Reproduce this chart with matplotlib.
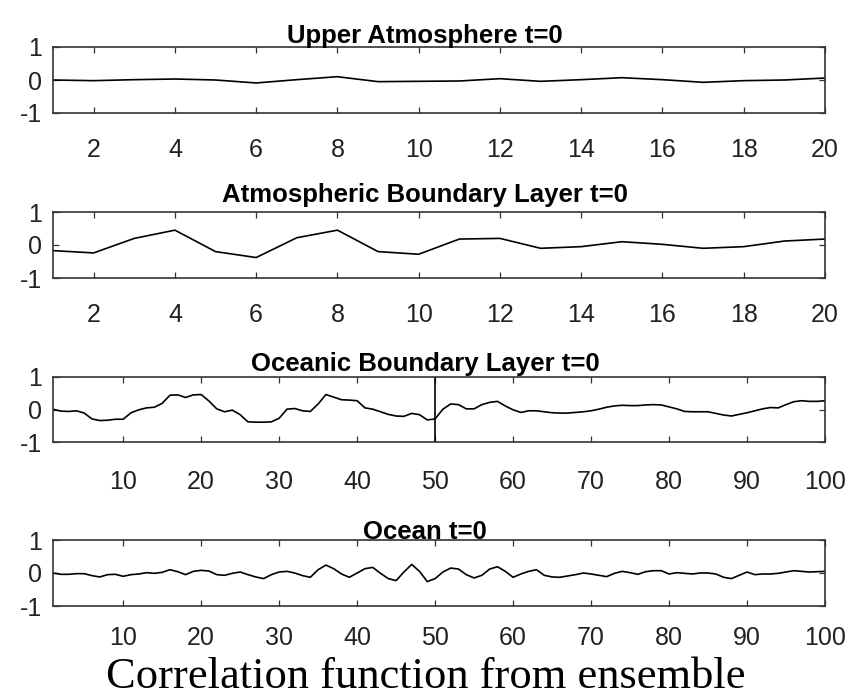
import numpy as np
import matplotlib
matplotlib.use("Agg")
import matplotlib.pyplot as plt

# ─── Data ─────────────────────────────────────────────────────────────────────

titles = [
    "Upper Atmosphere t=0",
    "Atmospheric Boundary Layer t=0",
    "Oceanic Boundary Layer t=0",
    "Ocean t=0",
]

x_short = np.arange(1, 21)
x_long = np.arange(1, 101)

upper_atm = [0.00, -0.02, 0.01, 0.03, 0.00, -0.09, 0.01, 0.10, -0.05, -0.04,
             -0.03, 0.04, -0.04, 0.01, 0.07, 0.01, -0.07, -0.02, 0.00, 0.06]

atm_bl = [-0.17, -0.24, 0.20, 0.45, -0.20, -0.38, 0.22, 0.45, -0.20, -0.28,
          0.18, 0.20, -0.10, -0.05, 0.10, 0.02, -0.10, -0.05, 0.12, 0.18]

ocean_bl = [0.01, -0.05, -0.06, -0.04, -0.11, -0.29, -0.34, -0.33, -0.30, -0.30,
            -0.10, -0.01, 0.05, 0.07, 0.19, 0.44, 0.45, 0.37, 0.45, 0.46,
            0.26, 0.02, -0.07, -0.02, -0.16, -0.38, -0.39, -0.39, -0.38, -0.27,
            0.01, 0.03, -0.04, -0.06, 0.17, 0.46, 0.38, 0.30, 0.29, 0.27,
            0.05, 0.01, -0.07, -0.15, -0.20, -0.21, -0.12, -0.16, -0.32, -0.29,
            0.01, 0.17, 0.15, 0.02, 0.02, 0.15, 0.22, 0.25, 0.11, -0.01,
            -0.09, -0.04, -0.04, -0.07, -0.10, -0.11, -0.11, -0.09, -0.07, -0.04,
            0.01, 0.07, 0.11, 0.13, 0.12, 0.12, 0.14, 0.15, 0.14, 0.08,
            0.02, -0.06, -0.07, -0.07, -0.07, -0.12, -0.17, -0.20, -0.15, -0.10,
            -0.04, 0.02, 0.06, 0.05, 0.15, 0.24, 0.27, 0.25, 0.25, 0.27]

ocean = [0.00, -0.04, -0.04, -0.02, -0.02, -0.08, -0.12, -0.05, -0.04, -0.10,
         -0.05, -0.03, 0.01, -0.01, 0.02, 0.10, 0.04, -0.05, 0.05, 0.08,
         0.06, -0.05, -0.07, -0.01, 0.03, -0.05, -0.12, -0.17, -0.05, 0.03,
         0.05, 0.00, -0.08, -0.13, 0.10, 0.24, 0.13, -0.03, -0.13, 0.00,
         0.13, 0.17, -0.01, -0.17, -0.23, 0.03, 0.26, 0.05, -0.26, -0.17,
         0.03, 0.15, 0.12, -0.05, -0.15, -0.07, 0.12, 0.19, 0.05, -0.13,
         -0.03, 0.05, 0.10, -0.07, -0.12, -0.13, -0.09, -0.05, 0.00, -0.03,
         -0.07, -0.11, -0.01, 0.05, 0.01, -0.04, 0.04, 0.07, 0.07, -0.03,
         0.01, -0.01, -0.03, 0.00, 0.00, -0.03, -0.13, -0.17, -0.07, 0.03,
         -0.05, -0.03, -0.03, -0.01, 0.03, 0.07, 0.05, 0.03, 0.04, 0.05]

series = [(x_short, upper_atm), (x_short, atm_bl), (x_long, ocean_bl), (x_long, ocean)]
xticks = [np.arange(2, 21, 2), np.arange(2, 21, 2),
          np.arange(10, 101, 10), np.arange(10, 101, 10)]
yticks = [-1, 0, 1]
ref_point = 50  # marker line in the oceanic boundary layer panel

# ─── Layout (pixel boxes of the reference) ────────────────────────────────────

W, H = 852, 698
LEFT, RIGHT = 53, 825
boxes = [(47, 113), (212, 278), (377, 442), (540, 606)]
title_pads = [3, 7.5, 4, 1]
xlabel_pads = [18.3, 18.3, 20.5, 14.5]

plt.rcParams["font.family"] = ["Liberation Sans", "DejaVu Sans"]
plt.rcParams["axes.unicode_minus"] = False

AX_COLOR = "#333333"

fig = plt.figure(figsize=(W / 100, H / 100), dpi=100)

for i, (top, bot) in enumerate(boxes):
    ax = fig.add_axes([LEFT / W, 1 - bot / H, (RIGHT - LEFT) / W, (bot - top) / H])
    x, y = series[i]
    ax.plot(x, y, color="black", lw=1.2)
    if i == 2:
        ax.axvline(ref_point, color="black", lw=1.2)
    ax.set_xlim(x[0], x[-1])
    ax.set_ylim(-1, 1)
    ax.set_xticks(xticks[i])
    ax.set_yticks(yticks)
    ax.tick_params(direction="in", length=4.5, width=0.9, colors=AX_COLOR,
                   labelcolor="#222222", labelsize=18,
                   top=True, right=True)
    ax.tick_params(axis="x", pad=xlabel_pads[i])
    ax.tick_params(axis="y", pad=8)
    for sp in ax.spines.values():
        sp.set_color(AX_COLOR)
        sp.set_linewidth(1.2)
    ax.set_title(titles[i], fontsize=18.5, fontweight="bold", color="black",
                 x=0.482, pad=title_pads[i])

fig.text(0.5, 1 - 688 / H, "Correlation function from ensemble",
         ha="center", va="baseline", fontsize=32,
         family=["Liberation Serif", "DejaVu Serif"], color="black")

fig.savefig("out.png", dpi=100, facecolor="white")
